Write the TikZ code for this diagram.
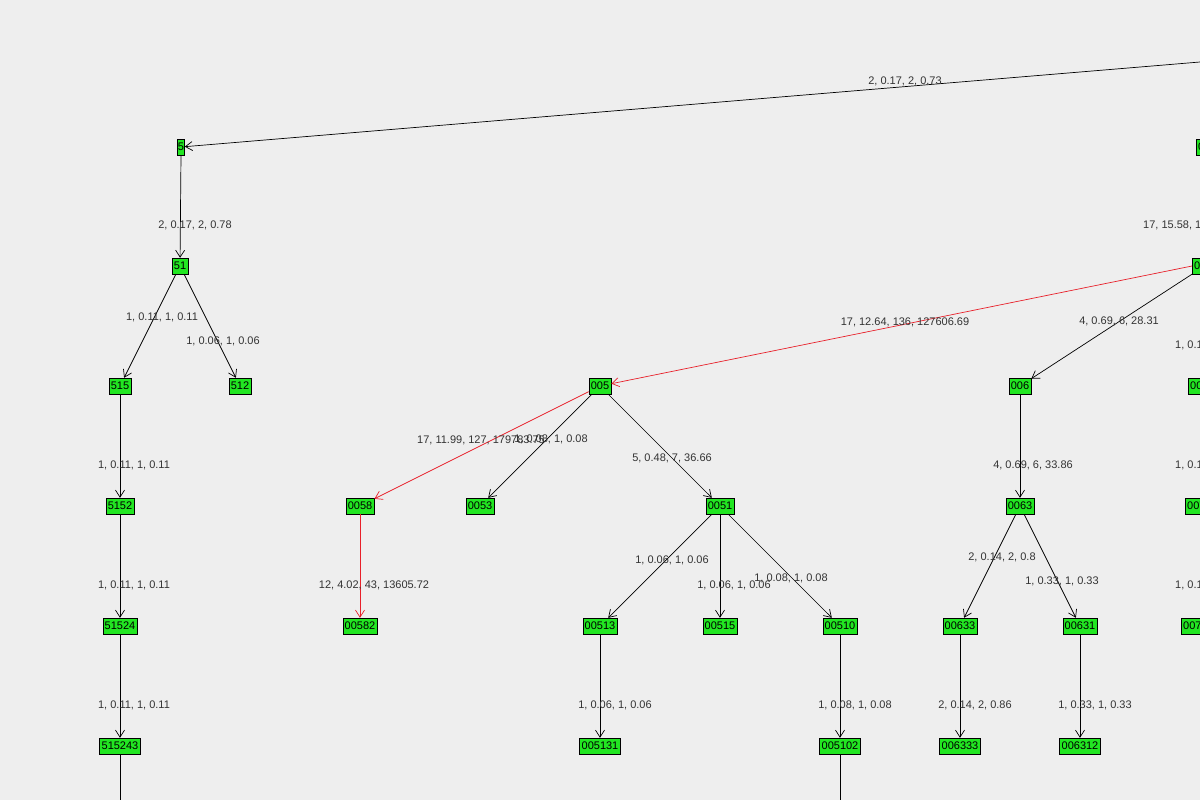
\documentclass[tikz,border=0pt]{standalone}
\usepackage{fontspec}
\setmainfont{Liberation Sans}
\usetikzlibrary{arrows.meta}
\definecolor{bg}{HTML}{EEEEEE}
\definecolor{ng}{HTML}{22E622}
\definecolor{rd}{HTML}{E8202A}
\begin{document}
\begin{tikzpicture}[x=1pt,y=-1pt,
  nd/.style={draw=black,fill=ng,inner sep=2pt,minimum height=16pt,font=\fontsize{11}{12}\selectfont},
  rnd/.style={nd,anchor=west},
  ed/.style={draw=black,line width=0.7pt,-{Straight Barb[length=7pt,width=9pt]}},
  red/.style={ed,draw=rd},
  lb/.style={font=\fontsize{11}{13}\selectfont,text=black!80,inner sep=0pt}]
\fill[bg] (0,0) rectangle (1200,800);
\useasboundingbox (0,0) rectangle (1200,800);
\clip (0,0) rectangle (1200,800);
% right column (cut)
\node[rnd] (r0) at (1196,147) {0};
\node[rnd] (r1) at (1192,266) {00};
\node[rnd] (r2) at (1188,386) {007};
\node[rnd] (r3) at (1185,506) {0071};
\node[rnd] (r4) at (1181,626) {00712};
\coordinate (top) at (1200,62);
\coordinate (bot1) at (120,800);
\coordinate (bot2) at (840,800);
% left
\node[nd,inner sep=0.5pt] (n5) at (181,147) {5};
\node[nd] (n51) at (180,266) {51};
\node[nd] (n515) at (120,386) {515};
\node[nd] (n512) at (240,386) {512};
\node[nd] (n5152) at (120,506) {5152};
\node[nd] (n51524) at (120,626) {51524};
\node[nd] (n515243) at (120,746) {515243};
% middle
\node[nd] (n005) at (600,386) {005};
\node[nd] (n0058) at (360,506) {0058};
\node[nd] (n0053) at (480,506) {0053};
\node[nd] (n0051) at (720,506) {0051};
\node[nd] (n00582) at (360,626) {00582};
\node[nd] (n00513) at (600,626) {00513};
\node[nd] (n00515) at (720,626) {00515};
\node[nd] (n00510) at (840,626) {00510};
\node[nd] (n005131) at (600,746) {005131};
\node[nd] (n005102) at (840,746) {005102};
\node[nd] (n006) at (1020,386) {006};
\node[nd] (n0063) at (1020,506) {0063};
\node[nd] (n00633) at (960,626) {00633};
\node[nd] (n00631) at (1080,626) {00631};
\node[nd] (n006333) at (960,746) {006333};
\node[nd] (n006312) at (1080,746) {006312};
% edges
\draw[ed] (top) -- (n5);
\draw[ed] (n5.south) -- (n51);
\draw[ed] (n51) -- (n515);
\draw[ed] (n51) -- (n512);
\draw[ed] (n515) -- (n5152);
\draw[ed] (n5152) -- (n51524);
\draw[ed] (n51524) -- (n515243);
\draw[line width=0.7pt] (n515243) -- (bot1);
\draw[red] (r1.west) -- (n005);
\draw[ed] (r1.south west) -- (n006);
\draw[red] (n005) -- (n0058);
\draw[ed] (n005) -- (n0053);
\draw[ed] (n005) -- (n0051);
\draw[red] (n0058) -- (n00582);
\draw[ed] (n0051) -- (n00513);
\draw[ed] (n0051) -- (n00515);
\draw[ed] (n0051) -- (n00510);
\draw[ed] (n00513) -- (n005131);
\draw[ed] (n00510) -- (n005102);
\draw[line width=0.7pt] (n005102) -- (bot2);
\draw[ed] (n006) -- (n0063);
\draw[ed] (n0063) -- (n00633);
\draw[ed] (n0063) -- (n00631);
\draw[ed] (n00633) -- (n006333);
\draw[ed] (n00631) -- (n006312);
% labels
\node[lb] (l1) at (905,81) {2, 0.17, 2, 0.73};
\node[lb] (l2) at (195,225) {2, 0.17, 2, 0.78};
\node[lb] (l3) at (162,317) {1, 0.11, 1, 0.11};
\node[lb] (l4) at (223,341) {1, 0.06, 1, 0.06};
\node[lb] (l5) at (134,465) {1, 0.11, 1, 0.11};
\node[lb] (l6) at (134,585) {1, 0.11, 1, 0.11};
\node[lb] (l7) at (134,705) {1, 0.11, 1, 0.11};
\node[lb] (l8) at (905,322) {17, 12.64, 136, 127606.69};
\node[lb] (l9) at (1119,321) {4, 0.69, 6, 28.31};
\node[lb,anchor=west] (l10) at (417,440) {17, 11.99, 127, 179783.75};
\node[lb] (l11) at (551,439) {1, 0.08, 1, 0.08};
\node[lb] (l12) at (672,458) {5, 0.48, 7, 36.66};
\node[lb] (l13) at (374,585) {12, 4.02, 43, 13605.72};
\node[lb] (l14) at (672,560) {1, 0.06, 1, 0.06};
\node[lb] (l15) at (734,585) {1, 0.06, 1, 0.06};
\node[lb] (l16) at (791,578) {1, 0.08, 1, 0.08};
\node[lb] (l17) at (615,705) {1, 0.06, 1, 0.06};
\node[lb] (l18) at (855,705) {1, 0.08, 1, 0.08};
\node[lb] (l19) at (1033,465) {4, 0.69, 6, 33.86};
\node[lb] (l20) at (1002,557) {2, 0.14, 2, 0.8};
\node[lb] (l21) at (1062,581) {1, 0.33, 1, 0.33};
\node[lb] (l22) at (975,705) {2, 0.14, 2, 0.86};
\node[lb] (l23) at (1095,705) {1, 0.33, 1, 0.33};
\node[lb,anchor=west] (l24) at (1143,225) {17, 15.58, 136, 127606.69};
\node[lb,anchor=west] (l25) at (1175,345) {1, 0.11, 1, 0.11};
\node[lb,anchor=west] (l26) at (1175,465) {1, 0.11, 1, 0.11};
\node[lb,anchor=west] (l27) at (1175,585) {1, 0.11, 1, 0.11};
\end{tikzpicture}
\end{document}
